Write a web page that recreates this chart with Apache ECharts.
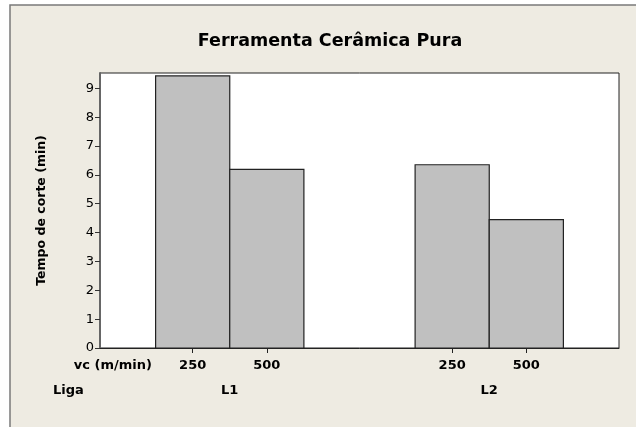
<!DOCTYPE html>
<html>
<head>
<meta charset="utf-8">
<script src="https://cdn.jsdelivr.net/npm/echarts@6/dist/echarts.min.js"></script>
<style>
  html, body { margin: 0; padding: 0; background: #fff; }
  #main { width: 636px; height: 427px; }
</style>
</head>
<body>
<div id="main"></div>
<script>
  // positions on a 0..7 axis, one unit = one bar width
  var barPos = [1.25, 2.25, 4.75, 5.75];
  var vcLabels = ['250', '500', '250', '500'];
  var tempo = [9.43, 6.19, 6.35, 4.45];
  var ligaPos = [1.75, 5.25];
  var ligaLabels = ['L1', 'L2'];
  var yTicks = [0, 1, 2, 3, 4, 5, 6, 7, 8, 9];

  var font = 'DejaVu Sans';
  var chart = echarts.init(document.getElementById('main'));

  var barData = barPos.map(function (x, i) { return [x, tempo[i]]; });

  chart.setOption({
    animation: false,
    backgroundColor: '#fff',
    graphic: [
      {
        type: 'rect', z: -10, silent: true,
        shape: { x: 10, y: 5, width: 700, height: 500 },
        style: { fill: '#EEEBE2', stroke: '#7a7a7a', lineWidth: 1.5 }
      },
      {
        type: 'text',
        style: { text: 'Ferramenta Cerâmica Pura', x: 330, y: 41, fill: '#000',
          font: 'bold 17.5px ' + font, textAlign: 'center', textVerticalAlign: 'middle' }
      },
      {
        type: 'text',
        style: { text: 'vc (m/min)', x: 152, y: 366, fill: '#000',
          font: 'bold 13px ' + font, textAlign: 'right', textVerticalAlign: 'middle' }
      },
      {
        type: 'text',
        style: { text: 'Liga', x: 53, y: 391, fill: '#000',
          font: 'bold 13px ' + font, textAlign: 'left', textVerticalAlign: 'middle' }
      }
    ],
    grid: {
      left: 100, right: 17, top: 73, bottom: 79,
      show: true, backgroundColor: '#fff', borderColor: '#222', borderWidth: 1
    },
    xAxis: [
      {
        type: 'value', min: 0, max: 7,
        splitLine: { show: false },
        axisLine: { lineStyle: { color: '#222', width: 1 } },
        axisTick: { customValues: barPos, length: 5, lineStyle: { color: '#222' } },
        axisLabel: {
          customValues: barPos, margin: 11,
          color: '#000', fontFamily: font, fontWeight: 'bold', fontSize: 13,
          formatter: function (v) { return vcLabels[barPos.indexOf(v)]; }
        }
      },
      {
        type: 'value', min: 0, max: 7, position: 'bottom', offset: 26,
        splitLine: { show: false },
        axisLine: { show: false },
        axisTick: { show: false },
        axisLabel: {
          customValues: ligaPos, margin: 10,
          color: '#000', fontFamily: font, fontWeight: 'bold', fontSize: 13,
          formatter: function (v) { return ligaLabels[ligaPos.indexOf(v)]; }
        }
      }
    ],
    yAxis: {
      type: 'value', min: 0, max: 9.53,
      name: 'Tempo de corte (min)', nameLocation: 'middle', nameGap: 52,
      nameTextStyle: { color: '#000', fontFamily: font, fontWeight: 'bold', fontSize: 12.5 },
      splitLine: { show: false },
      axisLine: { show: true, lineStyle: { color: '#666', width: 2 } },
      axisTick: { show: true, customValues: yTicks, length: 5, lineStyle: { color: '#333' } },
      axisLabel: { customValues: yTicks, margin: 6, color: '#000', fontFamily: font, fontSize: 13 }
    },
    series: [{
      type: 'custom',
      data: barData,
      renderItem: function (params, api) {
        var x = api.value(0), y = api.value(1);
        var p0 = api.coord([x - 0.5, 0]);
        var p1 = api.coord([x + 0.5, y]);
        return {
          type: 'rect',
          shape: { x: p0[0], y: p1[1], width: p1[0] - p0[0], height: p0[1] - p1[1] },
          style: { fill: '#C0C0C0', stroke: '#222', lineWidth: 1.2 }
        };
      }
    }]
  });
</script>
</body>
</html>
